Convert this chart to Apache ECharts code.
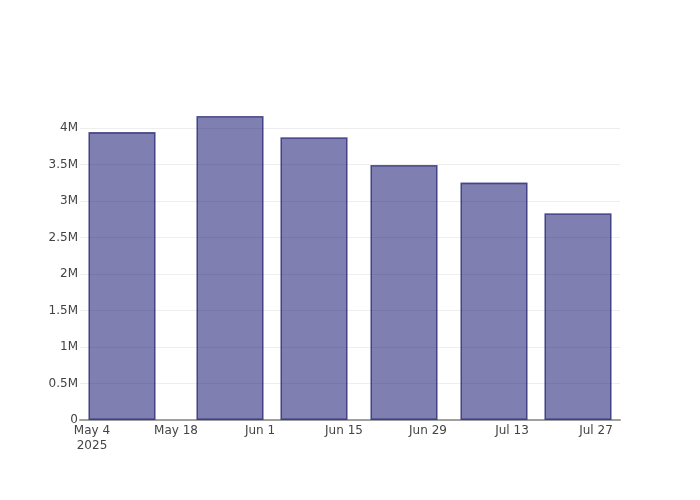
<!DOCTYPE html>
<html>
<head>
<meta charset="utf-8">
<script src="https://cdn.jsdelivr.net/npm/echarts@6/dist/echarts.min.js"></script>
<style>html,body{margin:0;padding:0;background:#fff}#c{width:700px;height:500px}</style>
</head>
<body>
<div id="c"></div>
<script>
// Data
const barDates = ['2025-05-09', '2025-05-27', '2025-06-10', '2025-06-25', '2025-07-10', '2025-07-24'];
const barValues = [3945000, 4166000, 3875000, 3495000, 3253000, 2834000];
const tickDates = ['2025-05-04', '2025-05-18', '2025-06-01', '2025-06-15', '2025-06-29', '2025-07-13', '2025-07-27'];
const tickLabels = ['May 4\n2025', 'May 18', 'Jun 1', 'Jun 15', 'Jun 29', 'Jul 13', 'Jul 27'];
const xMin = '2025-05-02';
const xMax = '2025-07-31';
const yMax = 4384000;
const yStep = 500000;

function ts(s) {
  const p = s.split('-').map(Number);
  return Date.UTC(p[0], p[1] - 1, p[2]);
}
const tickMap = {};
tickDates.forEach((d, i) => { tickMap[ts(d)] = tickLabels[i]; });

const chart = echarts.init(document.getElementById('c'), null, { renderer: 'canvas' });
const font = 'DejaVu Sans';
chart.setOption({
  animation: false,
  backgroundColor: '#fff',
  textStyle: { fontFamily: font },
  grid: { left: 80, right: 80, top: 100, bottom: 80, containLabel: false },
  xAxis: {
    type: 'value',
    min: ts(xMin),
    max: ts(xMax),
    scale: true,
    axisLine: { show: true, onZero: false, lineStyle: { color: '#a0a0a0', width: 2 } },
    axisTick: { show: false },
    splitLine: { show: false },
    axisLabel: {
      customValues: tickDates.map(ts),
      formatter: function (v) {
        const k = Math.round(v);
        return tickMap[k] !== undefined ? tickMap[k] : '';
      },
      color: '#444',
      fontSize: 12,
      fontFamily: font,
      lineHeight: 15,
      margin: 3,
      hideOverlap: false
    }
  },
  yAxis: {
    type: 'value',
    min: 0,
    max: yMax,
    interval: yStep,
    axisLine: { show: false },
    axisTick: { show: false },
    splitLine: { show: true, showMaxLine: false, lineStyle: { color: '#eeeeee', width: 1 } },
    axisLabel: {
      showMaxLabel: false,
      color: '#444',
      fontSize: 12,
      fontFamily: font,
      margin: 2,
      formatter: function (v) {
        if (v === 0) return '0';
        return (v / 1e6) + 'M';
      }
    }
  },
  series: [{
    type: 'bar',
    data: barDates.map((d, i) => [ts(d), barValues[i]]),
    barWidth: 67.2,
    itemStyle: {
      color: 'rgba(0,0,99,0.5)',
      borderColor: 'rgba(30,30,110,0.7)',
      borderWidth: 1.6
    }
  }]
});
</script>
</body>
</html>
